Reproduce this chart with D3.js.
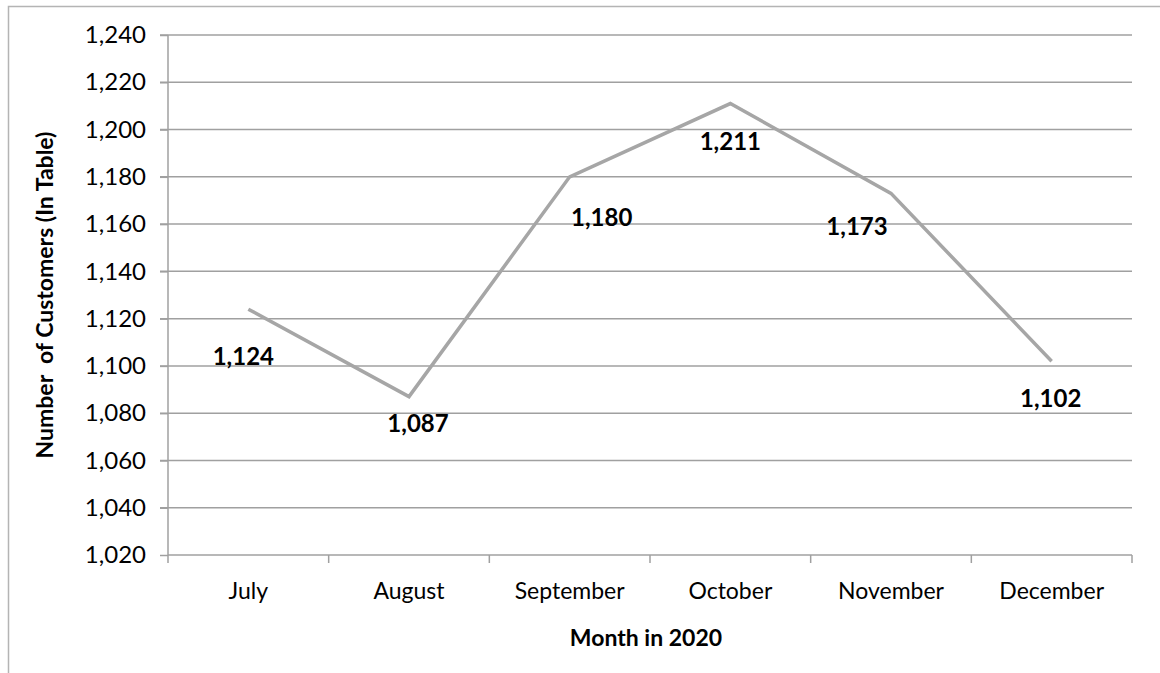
<!DOCTYPE html>
<html>
<head>
<meta charset="utf-8">
<script src="https://cdn.jsdelivr.net/npm/d3@7"></script>
<style>
  body { margin: 0; background: #fff; }
  svg { display: block; font-family: Lato, "Open Sans", sans-serif; }
</style>
</head>
<body>
<svg id="chart" width="1160" height="673"></svg>
<script>
// data
const months = ['July', 'August', 'September', 'October', 'November', 'December'];
const customers = [1124, 1087, 1180, 1211, 1173, 1102];
const yTicks = [1020, 1040, 1060, 1080, 1100, 1120, 1140, 1160, 1180, 1200, 1220, 1240];

const svg = d3.select('#chart');

// outer chart frame (partly cut off on the right/bottom)
svg.append('path')
  .attr('d', 'M8.5,673 V6.5 H1160')
  .attr('fill', 'none')
  .attr('stroke', '#b4b4b4')
  .attr('stroke-width', 1.5);

const margin = { top: 35, right: 28, bottom: 118, left: 168 };
const width = 1160 - margin.left - margin.right;
const height = 673 - margin.top - margin.bottom;

const chart = svg.append('g').attr('transform', `translate(${margin.left},${margin.top})`);

const x = d3.scaleBand().domain(months).range([0, width]).padding(0);
const y = d3.scaleLinear().domain([1020, 1240]).range([height, 0]);

// gridlines
chart.append('g')
  .selectAll('line')
  .data(yTicks.filter(d => d > 1020))
  .enter()
  .append('line')
  .attr('x1', -8)
  .attr('x2', width)
  .attr('y1', d => y(d))
  .attr('y2', d => y(d))
  .attr('stroke', '#a0a0a0')
  .attr('stroke-width', 1.5);

// y axis
const yAxis = chart.append('g')
  .call(d3.axisLeft(y).tickValues(yTicks).tickSize(8).tickPadding(14).tickFormat(d3.format(',')));
yAxis.select('path.domain').attr('stroke', '#a0a0a0').attr('stroke-width', 1.5).attr('d', `M0,0V${height}`);
yAxis.selectAll('.tick line').attr('stroke', '#a0a0a0').attr('stroke-width', 1.5);
yAxis.selectAll('text').attr('font-size', 24).attr('fill', '#000').attr('font-family', 'Lato, sans-serif');

// x axis: ticks on category boundaries
const xAxis = chart.append('g').attr('transform', `translate(0,${height})`);
xAxis.append('line')
  .attr('x1', 0).attr('x2', width)
  .attr('stroke', '#a0a0a0').attr('stroke-width', 1.5);
xAxis.selectAll('line.tk')
  .data(months.concat(['end']))
  .enter()
  .append('line')
  .attr('class', 'tk')
  .attr('x1', (d, i) => i * x.step())
  .attr('x2', (d, i) => i * x.step())
  .attr('y1', 0).attr('y2', 8)
  .attr('stroke', '#a0a0a0').attr('stroke-width', 1.5);
xAxis.selectAll('text')
  .data(months)
  .enter()
  .append('text')
  .attr('x', d => x(d) + x.bandwidth() / 2)
  .attr('y', 44)
  .attr('text-anchor', 'middle')
  .attr('font-size', 23)
  .text(d => d);

// line
const line = d3.line()
  .x((d, i) => x(months[i]) + x.bandwidth() / 2)
  .y(d => y(d));

chart.append('path')
  .datum(customers)
  .attr('d', line)
  .attr('fill', 'none')
  .attr('stroke', '#a6a6a6')
  .attr('stroke-width', 3.5);

// data labels (hand placed in the original, hence the nudges)
const labelNudge = [[-5, 56], [9, 35], [32, 49], [0, 46], [-34, 42], [-1, 46]];
chart.append('g')
  .selectAll('text')
  .data(customers)
  .enter()
  .append('text')
  .attr('x', (d, i) => x(months[i]) + x.bandwidth() / 2 + labelNudge[i][0])
  .attr('y', (d, i) => y(d) + labelNudge[i][1])
  .attr('text-anchor', 'middle')
  .attr('font-size', 24)
  .attr('font-weight', 'bold')
  .text(d => d3.format(',')(d));

// axis titles
svg.append('text')
  .attr('x', margin.left + width / 2 - 4)
  .attr('y', 646)
  .attr('text-anchor', 'middle')
  .attr('font-size', 23)
  .attr('font-weight', 'bold')
  .text('Month in 2020');

svg.append('text')
  .attr('transform', `translate(53,${margin.top + height / 2}) rotate(-90)`)
  .attr('text-anchor', 'middle')
  .attr('font-size', 23)
  .attr('font-weight', 'bold')
  .attr('xml:space', 'preserve')
  .style('white-space', 'pre')
  .text('Number  of Customers (In Table)');
</script>
</body>
</html>
